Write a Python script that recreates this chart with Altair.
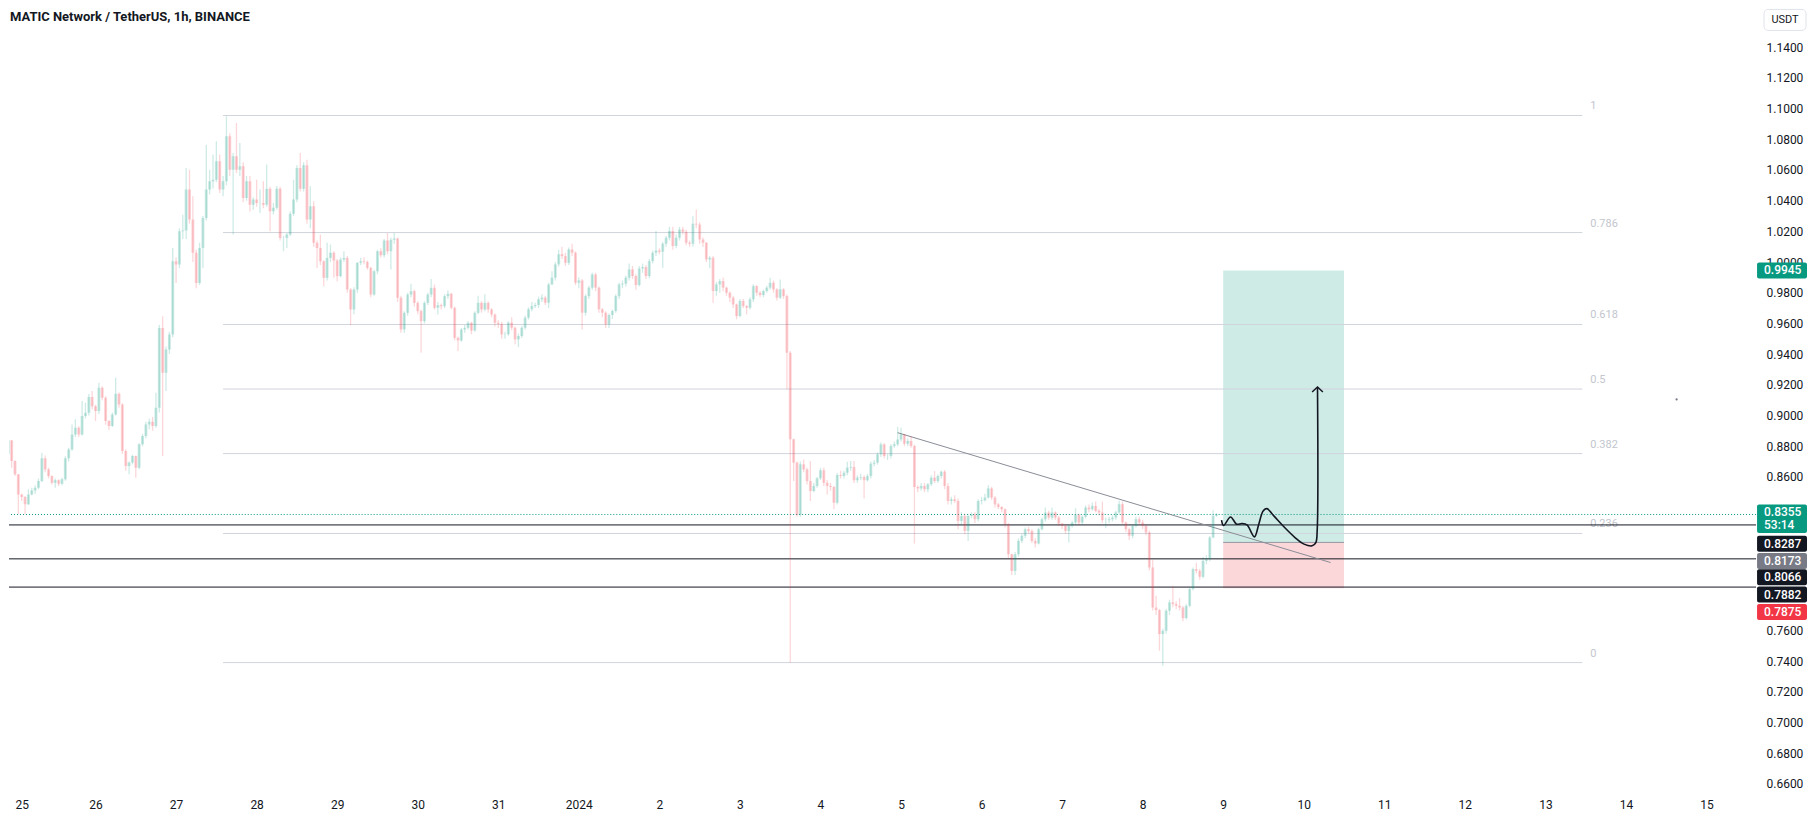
import altair as alt
import pandas as pd
import numpy as np

# ---------------- data (hourly candles, MATIC/USDT) ----------------
first_open = 0.8747
close = [
    0.8838, 0.8703, 0.8617, 0.8486, 0.8469, 0.8421, 0.8486, 0.8512, 0.8530, 0.8573,
    0.8721, 0.8649, 0.8606, 0.8562, 0.8578, 0.8556, 0.8584, 0.8721, 0.8779, 0.8877,
    0.8920, 0.8877, 0.8996, 0.9018, 0.9120, 0.9061, 0.9029, 0.9181, 0.9116, 0.8964,
    0.8931, 0.9007, 0.9142, 0.9072, 0.8768, 0.8671, 0.8693, 0.8736, 0.8660, 0.8812,
    0.8866, 0.8942, 0.8960, 0.8931, 0.9051, 0.9571, 0.9278, 0.9430, 0.9528, 1.0005,
    0.9984, 1.0201, 1.0205, 1.0472, 1.0277, 1.0060, 0.9864, 1.0092, 1.0287, 1.0472,
    1.0526, 1.0537, 1.0656, 1.0472, 1.0526, 1.0819, 1.0602, 1.0689, 1.0602, 1.0624,
    1.0418, 1.0526, 1.0374, 1.0407,
    1.0385, 1.0385, 1.0374, 1.0478, 1.0331, 1.0353, 1.0478, 1.0157, 1.0157, 1.0179,
    1.0314, 1.0407, 1.0613, 1.0478, 1.0630, 1.0277, 1.0363, 1.0125, 1.0092, 1.0005,
    0.9897, 1.0027, 1.0060, 1.0010, 0.9908, 1.0016, 1.0027, 0.9821, 0.9691, 0.9821,
    0.9995, 1.0005, 1.0001, 0.9962, 0.9788, 0.9940, 1.0071, 1.0044, 1.0140, 1.0071,
    1.0146, 1.0153, 0.9767, 0.9561, 0.9669, 0.9788, 0.9810, 0.9734, 0.9680, 0.9615,
    0.9734, 0.9788, 0.9832, 0.9702, 0.9719, 0.9712, 0.9778, 0.9793, 0.9702, 0.9506,
    0.9489, 0.9561, 0.9571, 0.9604, 0.9554, 0.9669, 0.9734, 0.9691, 0.9734, 0.9691,
    0.9658, 0.9604, 0.9597, 0.9528,
    0.9529, 0.9605, 0.9572, 0.9496, 0.9518, 0.9572, 0.9637, 0.9692, 0.9713, 0.9720,
    0.9757, 0.9768, 0.9735, 0.9854, 0.9898, 0.9985, 1.0050, 1.0039, 0.9995, 1.0082,
    1.0060, 0.9865, 0.9880, 0.9670, 0.9778, 0.9833, 0.9919, 0.9833, 0.9692, 0.9670,
    0.9594, 0.9655, 0.9681, 0.9778, 0.9854, 0.9859, 0.9898, 0.9952, 0.9909, 0.9850,
    0.9958, 0.9967, 0.9909, 1.0006, 1.0060, 1.0076, 1.0067, 1.0119, 1.0158, 1.0202,
    1.0104, 1.0158, 1.0212, 1.0197, 1.0126, 1.0119, 1.0249, 1.0245, 1.0147, 1.0126,
    1.0017, 1.0028, 0.9811, 0.9854, 0.9876, 0.9833, 0.9800, 0.9768, 0.9724, 0.9648,
    0.9746, 0.9713, 0.9702, 0.9757, 0.9843, 0.9800, 0.9785, 0.9811, 0.9833, 0.9865,
    0.9822, 0.9768, 0.9822, 0.9778, 0.9409, 0.8845,
    0.8693, 0.8352, 0.8682, 0.8649, 0.8573, 0.8508, 0.8541, 0.8591, 0.8643, 0.8562,
    0.8541, 0.8534, 0.8432, 0.8612, 0.8606, 0.8627, 0.8660, 0.8664, 0.8578, 0.8595,
    0.8599, 0.8578, 0.8606, 0.8686, 0.8693, 0.8747, 0.8812, 0.8736, 0.8736, 0.8801,
    0.8812, 0.8844, 0.8877, 0.8816, 0.8834, 0.8801, 0.8534, 0.8525, 0.8541, 0.8519,
    0.8552, 0.8595, 0.8573, 0.8606, 0.8634, 0.8541, 0.8443, 0.8454, 0.8443, 0.8313,
    0.8345, 0.8248, 0.8345, 0.8356, 0.8324, 0.8443, 0.8447, 0.8465, 0.8525, 0.8465,
    0.8421, 0.8404, 0.8389, 0.8291, 0.8096, 0.7987, 0.8096, 0.8183,
    0.8216, 0.8259, 0.8248, 0.8183, 0.8166, 0.8259, 0.8324, 0.8368, 0.8335, 0.8368,
    0.8335, 0.8296, 0.8281, 0.8248, 0.8281, 0.8303, 0.8353, 0.8303, 0.8340, 0.8400,
    0.8389, 0.8411, 0.8379, 0.8368, 0.8318, 0.8318, 0.8324, 0.8335, 0.8368, 0.8422,
    0.8303, 0.8259, 0.8216, 0.8281, 0.8324, 0.8303, 0.8281, 0.8238, 0.8010, 0.7749,
    0.7732, 0.7576, 0.7597, 0.7728, 0.7782, 0.7771, 0.7760, 0.7749, 0.7680, 0.7760,
    0.7869, 0.7999, 0.7988, 0.7949, 0.8053, 0.8064, 0.8205, 0.8346, 0.8355,
]
high = [
    0.8844, 0.8838, 0.8708, 0.8617, 0.8490, 0.8475, 0.8519, 0.8530, 0.8545, 0.8590,
    0.8758, 0.8740, 0.8660, 0.8610, 0.8590, 0.8585, 0.8595, 0.8735, 0.8790, 0.8942,
    0.8975, 0.8930, 0.9094, 0.9083, 0.9140, 0.9159, 0.9070, 0.9213, 0.9190, 0.9125,
    0.8970, 0.9020, 0.9246, 0.9150, 0.9080, 0.8780, 0.8700, 0.8745, 0.8740, 0.8820,
    0.8880, 0.8960, 0.8980, 0.8990, 0.9148, 0.9590, 0.9647, 0.9450, 0.9545, 1.0092,
    1.0030, 1.0220, 1.0309, 1.0613, 1.0602, 1.0428, 1.0080, 1.0125, 1.0300, 1.0765,
    1.0602, 1.0700, 1.0787, 1.0700, 1.0560, 1.0950, 1.0840, 1.0710, 1.0906, 1.0776,
    1.0650, 1.0560, 1.0560, 1.0420,
    1.0537, 1.0472, 1.0526, 1.0635, 1.0490, 1.0385, 1.0495, 1.0490, 1.0170, 1.0190,
    1.0330, 1.0537, 1.0630, 1.0711, 1.0650, 1.0667, 1.0494, 1.0396, 1.0140, 1.0179,
    1.0010, 1.0125, 1.0114, 1.0070, 1.0020, 1.0030, 1.0071, 1.0040, 0.9830, 0.9835,
    1.0000, 1.0027, 1.0031, 1.0010, 0.9970, 0.9950, 1.0080, 1.0090, 1.0150, 1.0190,
    1.0160, 1.0190, 1.0160, 0.9780, 0.9680, 0.9800, 0.9858, 0.9820, 0.9745, 0.9690,
    0.9745, 0.9800, 0.9890, 0.9853, 0.9740, 0.9730, 0.9790, 0.9815, 0.9800, 0.9710,
    0.9515, 0.9570, 0.9590, 0.9615, 0.9610, 0.9680, 0.9780, 0.9745, 0.9790, 0.9745,
    0.9700, 0.9665, 0.9620, 0.9610,
    0.9545, 0.9615, 0.9640, 0.9580, 0.9535, 0.9585, 0.9650, 0.9705, 0.9740, 0.9735,
    0.9775, 0.9790, 0.9780, 0.9865, 0.9940, 1.0000, 1.0080, 1.0100, 1.0060, 1.0095,
    1.0120, 1.0070, 0.9900, 0.9890, 0.9790, 0.9845, 0.9930, 0.9930, 0.9840, 0.9700,
    0.9680, 0.9665, 0.9690, 0.9790, 0.9865, 0.9880, 0.9910, 0.9990, 0.9975, 0.9920,
    0.9975, 0.9990, 0.9980, 1.0020, 1.0075, 1.0202, 1.0090, 1.0130, 1.0170, 1.0230,
    1.0230, 1.0180, 1.0230, 1.0230, 1.0210, 1.0140, 1.0299, 1.0343, 1.0260, 1.0160,
    1.0130, 1.0040, 1.0040, 0.9870, 0.9890, 0.9900, 0.9840, 0.9810, 0.9780, 0.9730,
    0.9760, 0.9760, 0.9720, 0.9770, 0.9855, 0.9850, 0.9810, 0.9820, 0.9845, 0.9898,
    0.9880, 0.9830, 0.9887, 0.9830, 0.9790, 0.9420,
    0.8850, 0.8700, 0.8700, 0.8714, 0.8660, 0.8703, 0.8560, 0.8600, 0.8660, 0.8660,
    0.8580, 0.8560, 0.8540, 0.8625, 0.8640, 0.8640, 0.8699, 0.8703, 0.8703, 0.8610,
    0.8620, 0.8610, 0.8620, 0.8700, 0.8710, 0.8760, 0.8825, 0.8820, 0.8750, 0.8815,
    0.8830, 0.8925, 0.8920, 0.8877, 0.8850, 0.8866, 0.8810, 0.8545, 0.8560, 0.8560,
    0.8560, 0.8610, 0.8638, 0.8615, 0.8640, 0.8645, 0.8560, 0.8470, 0.8480, 0.8460,
    0.8370, 0.8360, 0.8360, 0.8370, 0.8370, 0.8455, 0.8470, 0.8490, 0.8545, 0.8535,
    0.8475, 0.8430, 0.8410, 0.8395, 0.8300, 0.8100, 0.8110, 0.8200,
    0.8230, 0.8270, 0.8275, 0.8260, 0.8200, 0.8270, 0.8335, 0.8400, 0.8380, 0.8400,
    0.8375, 0.8345, 0.8300, 0.8290, 0.8290, 0.8315, 0.8396, 0.8360, 0.8350, 0.8415,
    0.8420, 0.8433, 0.8439, 0.8390, 0.8439, 0.8335, 0.8340, 0.8350, 0.8380, 0.8444,
    0.8440, 0.8310, 0.8270, 0.8290, 0.8340, 0.8340, 0.8320, 0.8290, 0.8250, 0.8060,
    0.7825, 0.7740, 0.7610, 0.7740, 0.7800, 0.7890, 0.7790, 0.7810, 0.7760, 0.7770,
    0.7880, 0.8010, 0.8040, 0.8000, 0.8080, 0.8090, 0.8215, 0.8383, 0.8365,
]
low = [
    0.8742, 0.8660, 0.8606, 0.8356, 0.8443, 0.8356, 0.8417, 0.8480, 0.8490, 0.8520,
    0.8565, 0.8630, 0.8590, 0.8550, 0.8530, 0.8540, 0.8545, 0.8575, 0.8700, 0.8770,
    0.8860, 0.8860, 0.8870, 0.8980, 0.9000, 0.9040, 0.8964, 0.9010, 0.9100, 0.8940,
    0.8905, 0.8925, 0.9000, 0.9050, 0.8750, 0.8640, 0.8617, 0.8680, 0.8595, 0.8650,
    0.8800, 0.8850, 0.8910, 0.8900, 0.8920, 0.9020, 0.8736, 0.9159, 0.9400, 0.9510,
    0.9864, 0.9960, 1.0150, 1.0150, 1.0250, 1.0000, 0.9830, 0.9850, 0.9962, 1.0270,
    1.0440, 1.0480, 1.0520, 1.0450, 1.0428, 1.0500, 1.0560, 1.0179, 1.0580, 1.0560,
    1.0390, 1.0400, 1.0330, 1.0340,
    1.0360, 1.0320, 1.0350, 1.0360, 1.0201, 1.0310, 1.0340, 1.0140, 1.0071, 1.0092,
    1.0170, 1.0300, 1.0390, 1.0460, 1.0460, 1.0250, 1.0220, 1.0100, 0.9962, 0.9980,
    0.9843, 0.9880, 1.0000, 0.9897, 0.9875, 0.9900, 1.0000, 0.9800, 0.9589, 0.9660,
    0.9800, 0.9980, 0.9985, 0.9950, 0.9770, 0.9780, 0.9920, 1.0030, 1.0030, 1.0050,
    0.9951, 1.0120, 0.9740, 0.9540, 0.9540, 0.9650, 0.9770, 0.9710, 0.9660, 0.9409,
    0.9600, 0.9720, 0.9770, 0.9690, 0.9658, 0.9690, 0.9700, 0.9760, 0.9690, 0.9490,
    0.9420, 0.9480, 0.9540, 0.9560, 0.9530, 0.9545, 0.9660, 0.9670, 0.9680, 0.9670,
    0.9640, 0.9580, 0.9570, 0.9500,
    0.9500, 0.9520, 0.9555, 0.9464, 0.9446, 0.9505, 0.9560, 0.9625, 0.9680, 0.9700,
    0.9700, 0.9740, 0.9720, 0.9700, 0.9850, 0.9880, 0.9970, 1.0020, 0.9975, 0.9980,
    1.0040, 0.9850, 0.9830, 0.9561, 0.9650, 0.9760, 0.9820, 0.9810, 0.9670, 0.9640,
    0.9570, 0.9570, 0.9630, 0.9670, 0.9760, 0.9830, 0.9840, 0.9880, 0.9890, 0.9820,
    0.9840, 0.9930, 0.9890, 0.9895, 0.9990, 1.0040, 1.0050, 0.9963, 1.0100, 1.0140,
    1.0080, 1.0090, 1.0140, 1.0180, 1.0110, 1.0100, 1.0100, 1.0220, 1.0120, 1.0100,
    1.0000, 0.9960, 0.9735, 0.9780, 0.9800, 0.9810, 0.9780, 0.9740, 0.9700, 0.9627,
    0.9640, 0.9700, 0.9659, 0.9690, 0.9740, 0.9780, 0.9770, 0.9770, 0.9800, 0.9820,
    0.9800, 0.9750, 0.9760, 0.9760, 0.9171, 0.7391,
    0.8573, 0.8340, 0.8340, 0.8630, 0.8550, 0.8443, 0.8500, 0.8530, 0.8580, 0.8540,
    0.8486, 0.8510, 0.8389, 0.8420, 0.8590, 0.8590, 0.8610, 0.8640, 0.8560, 0.8560,
    0.8580, 0.8460, 0.8570, 0.8590, 0.8670, 0.8680, 0.8730, 0.8720, 0.8710, 0.8720,
    0.8790, 0.8800, 0.8830, 0.8800, 0.8800, 0.8790, 0.8165, 0.8500, 0.8510, 0.8500,
    0.8500, 0.8540, 0.8560, 0.8560, 0.8590, 0.8520, 0.8420, 0.8420, 0.8430, 0.8259,
    0.8290, 0.8226, 0.8183, 0.8330, 0.8300, 0.8310, 0.8420, 0.8440, 0.8460, 0.8450,
    0.8400, 0.8390, 0.8370, 0.8270, 0.8070, 0.7960, 0.7960, 0.8080,
    0.8170, 0.8200, 0.8230, 0.8170, 0.8140, 0.8160, 0.8250, 0.8310, 0.8320, 0.8320,
    0.8320, 0.8280, 0.8260, 0.8230, 0.8172, 0.8270, 0.8290, 0.8285, 0.8290, 0.8330,
    0.8370, 0.8380, 0.8370, 0.8350, 0.8300, 0.8265, 0.8300, 0.8310, 0.8320, 0.8360,
    0.8290, 0.8240, 0.8188, 0.8200, 0.8270, 0.8290, 0.8260, 0.8220, 0.7990, 0.7730,
    0.7700, 0.7467, 0.7370, 0.7580, 0.7700, 0.7750, 0.7740, 0.7730, 0.7660, 0.7670,
    0.7750, 0.7860, 0.7970, 0.7930, 0.7940, 0.8030, 0.8050, 0.8200, 0.8340,
]
first_candle = "2023-12-24 22:00"

# Fibonacci retracement
fib_high, fib_low = 1.0955, 0.7390
fib_ratios = [1, 0.786, 0.618, 0.5, 0.382, 0.236, 0]
fib_texts = ["1", "0.786", "0.618", "0.5", "0.382", "0.236", "0"]
fib_start, fib_end = "2023-12-27 14:00", "2024-01-13 11:00"

# horizontal levels
black_levels = [0.8287, 0.8066, 0.7882]
last_price = 0.8355

# trend line
trend_time = ["2024-01-04 23:00", "2024-01-10 08:00"]
trend_price = [0.8888, 0.8042]

# long position tool
pos_start, pos_end = "2024-01-09 00:00", "2024-01-10 12:00"
pos_entry, pos_target, pos_stop = 0.8173, 0.9945, 0.7875

# hand-drawn path (hours after 2023-12-25 00:00)
path_hours = [359.5, 360.1, 362.2, 364.0, 365.6, 367.1, 369.3, 370.6, 371.9, 373.0,
              375.1, 378.3, 381.4, 384.1, 386.5, 387.6, 388.0, 388.1]
path_price = [0.8318, 0.8283, 0.8339, 0.8292, 0.8296, 0.8287, 0.8209, 0.8292, 0.8378, 0.8393,
              0.8346, 0.8270, 0.8205, 0.8162, 0.8151, 0.8172, 0.8248, 0.9186]
arrow_hours = [386.5, 388.1, 389.7]
arrow_price = [0.9153, 0.9186, 0.9153]
dot_hours, dot_price = [495.1], [0.9105]

# price-scale tags
tag_text = ["0.9945", "0.8355", "53:14", "0.8287", "0.8173", "0.8066", "0.7882", "0.7875"]
tag_pos = [0.9945, 0.8368, 0.8285, 0.8164, 0.8052, 0.7946, 0.7833, 0.7720]
box_top = [0.9997, 0.8420, 0.8216, 0.8104, 0.7998, 0.7885, 0.7772]
box_bot = [0.9893, 0.8234, 0.8112, 0.8000, 0.7894, 0.7781, 0.7668]
box_col = ["#089981", "#089981", "#131722", "#787b86", "#131722", "#131722", "#f23645"]

# price scale ticks (those hidden under the tags are left out)
y_ticks = [0.66, 0.68, 0.70, 0.72, 0.74, 0.76, 0.86, 0.88, 0.90, 0.92, 0.94, 0.96,
           0.98, 1.00, 1.02, 1.04, 1.06, 1.08, 1.10, 1.12, 1.14]

# ---------------- frames ----------------
GREEN, RED, INK = "#089981", "#f23645", "#131722"
FONT = "Roboto"
W, H = 1749, 782
base = pd.Timestamp("2023-12-25 00:00")

df = pd.DataFrame({"close": close, "high": high, "low": low})
df["open"] = [first_open] + close[:-1]
df["t"] = pd.date_range(first_candle, periods=len(df), freq="h")
df["dir"] = np.where(df["close"] >= df["open"], "up", "down")

XS = alt.Scale(domain=[alt.DateTime(year=2023, month=12, date=24, hours=23, minutes=42, seconds=15),
                       alt.DateTime(year=2024, month=1, date=15, hours=13, minutes=17)])
YS = alt.Scale(domain=[0.6556, 1.1646], zero=False, nice=False)
day_vals = [alt.DateTime(year=2023, month=12, date=d) for d in range(25, 32)] + \
           [alt.DateTime(year=2024, month=1, date=d) for d in range(1, 16)]
XAX = alt.Axis(values=day_vals, title=None, ticks=False, domain=False, grid=False,
               labelExpr="(month(datum.value)==0 && date(datum.value)==1) ? timeFormat(datum.value,'%Y') : timeFormat(datum.value,'%-d')",
               labelFont=FONT, labelFontSize=12, labelColor=INK, labelPadding=9,
               labelFlush=6, labelOverlap=False)
YAX = alt.Axis(orient="right", values=y_ticks, format=".4f", title=None, ticks=False,
               domain=False, grid=False, labelFont=FONT, labelFontSize=12, labelColor=INK,
               labelPadding=10, labelAlign="left")


def X(f):
    return alt.X(f, type="temporal", scale=XS, axis=XAX)


def Y(f):
    return alt.Y(f, type="quantitative", scale=YS, axis=YAX)


col = alt.Color("dir:N", scale=alt.Scale(domain=["up", "down"], range=[GREEN, RED]), legend=None)

# position tool
pos_df = pd.DataFrame({"a": [pd.Timestamp(pos_start)] * 2, "b": [pd.Timestamp(pos_end)] * 2,
                       "y1": [pos_entry, pos_stop], "y2": [pos_target, pos_entry],
                       "c": ["win", "loss"]})
pos_layer = alt.Chart(pos_df).mark_rect().encode(
    x=X("a"), x2="b", y=Y("y1"), y2="y2",
    color=alt.Color("c:N", scale=alt.Scale(domain=["win", "loss"],
                                            range=["rgba(8,153,129,0.2)", "rgba(242,54,69,0.2)"]),
                    legend=None))
entry_df = pd.DataFrame({"a": [pd.Timestamp(pos_start)], "b": [pd.Timestamp(pos_end)], "y": [pos_entry]})
entry_layer = alt.Chart(entry_df).mark_rule(color="#9598a1", strokeWidth=1).encode(x=X("a"), x2="b", y=Y("y"))

# fib
fib_df = pd.DataFrame({"r": fib_ratios, "txt": fib_texts})
fib_df["p"] = fib_low + fib_df["r"] * (fib_high - fib_low)
fib_df["a"] = pd.Timestamp(fib_start)
fib_df["b"] = pd.Timestamp(fib_end)
fib_lines = alt.Chart(fib_df).mark_rule(color="#d1d4dc", strokeWidth=1).encode(x=X("a"), x2="b", y=Y("p"))
fib_lbl = alt.Chart(fib_df).mark_text(align="left", baseline="middle", dx=8, dy=-9, font=FONT,
                                      fontSize=11, color="#c3c6ce").encode(x=X("b"), y=Y("p"), text="txt:N")

# horizontal lines
hl_df = pd.DataFrame({"p": black_levels})
hl_layer = alt.Chart(hl_df).mark_rule(color=INK, strokeWidth=1).encode(y=Y("p"))
lp_df = pd.DataFrame({"p": [last_price]})
lp_layer = alt.Chart(lp_df).mark_rule(color=GREEN, strokeWidth=1, strokeDash=[1, 2]).encode(y=Y("p"))

# trend line
tr_df = pd.DataFrame({"t": pd.to_datetime(trend_time), "p": trend_price})
tr_layer = alt.Chart(tr_df).mark_line(color="#8a8d96", strokeWidth=1).encode(x=X("t"), y=Y("p"))

# candles
wick = alt.Chart(df).mark_rule(strokeWidth=1.3, clip=True).encode(x=X("t"), y=Y("low"), y2="high", color=col)
body = alt.Chart(df).mark_bar(size=3, clip=True).encode(x=X("t"), y=Y("open"), y2="close", color=col)

# hand drawing
path_df = pd.DataFrame({"t": base + pd.to_timedelta(path_hours, unit="h"), "p": path_price,
                        "o": range(len(path_hours))})
path_layer = alt.Chart(path_df).mark_line(color=INK, strokeWidth=1.6, interpolate="catmull-rom").encode(
    x=X("t"), y=Y("p"), order="o:Q")
ar_df = pd.DataFrame({"t": base + pd.to_timedelta(arrow_hours, unit="h"), "p": arrow_price,
                      "o": range(len(arrow_hours))})
ar_layer = alt.Chart(ar_df).mark_line(color=INK, strokeWidth=1.4).encode(x=X("t"), y=Y("p"), order="o:Q")
dot_df = pd.DataFrame({"t": base + pd.to_timedelta(dot_hours, unit="h"), "p": dot_price})
dot_layer = alt.Chart(dot_df).mark_circle(size=5, color="#787b86", opacity=1).encode(x=X("t"), y=Y("p"))

# price tags on the scale
box_df = pd.DataFrame({"top": box_top, "bot": box_bot, "c": box_col})
box_layer = alt.Chart(box_df).mark_rect(cornerRadius=2).encode(
    x=alt.value(W + 1), x2=alt.value(W + 51), y=Y("top"), y2="bot",
    color=alt.Color("c:N", scale=None))
tag_df = pd.DataFrame({"txt": tag_text, "p": tag_pos})
tag_layer = alt.Chart(tag_df).mark_text(align="left", baseline="middle", font=FONT, fontSize=12,
                                        fontWeight=500, color="white").encode(
    x=alt.value(W + 8), y=Y("p"), text="txt:N")

# currency box and title
usdt_box = alt.Chart(pd.DataFrame({"k": [0]})).mark_rect(
    fill="white", stroke="#e0e3eb", strokeWidth=1, cornerRadius=4).encode(
    x=alt.value(W + 8), x2=alt.value(W + 50), y=alt.value(0), y2=alt.value(21))
usdt_txt = alt.Chart(pd.DataFrame({"s": ["USDT"]})).mark_text(
    font=FONT, fontSize=11, color=INK, align="center", baseline="middle").encode(
    x=alt.value(W + 29), y=alt.value(11), text="s:N")
title = alt.Chart(pd.DataFrame({"s": ["MATIC Network / TetherUS, 1h, BINANCE"]})).mark_text(
    font=FONT, fontSize=13, fontWeight="bold", color=INK, align="left", baseline="middle").encode(
    x=alt.value(1), y=alt.value(8), text="s:N")

chart = alt.layer(
    pos_layer, entry_layer, fib_lines, fib_lbl, hl_layer, lp_layer, tr_layer,
    wick, body, path_layer, ar_layer, dot_layer,
    box_layer, tag_layer, usdt_box, usdt_txt, title
).properties(width=W, height=H, padding=0, background="white").configure_view(stroke=None)

chart.save("out.html", embed_options={"renderer": "svg", "actions": False})
